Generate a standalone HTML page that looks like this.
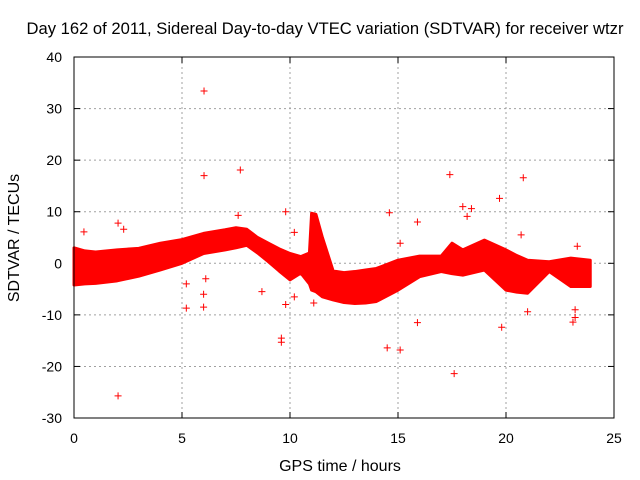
<!DOCTYPE html>
<html><head><meta charset="utf-8"><style>
body{margin:0;background:#fff;}
svg{display:block;font-family:"Liberation Sans",sans-serif;}
</style></head><body>
<svg id="chart" width="640" height="480">
<text x="325" y="34" text-anchor="middle" font-size="16.6">Day 162 of 2011, Sidereal Day-to-day VTEC variation (SDTVAR) for receiver wtzr</text>
<text x="340" y="471" text-anchor="middle" font-size="16">GPS time / hours</text>
<text transform="translate(19,238) rotate(-90)" text-anchor="middle" font-size="16">SDTVAR / TECUs</text>
<g id="grid"></g><g id="ticks"></g><g id="marks"></g>
<rect x="74" y="57" width="540" height="361" fill="none" stroke="#000" stroke-width="1"/>
</svg>
<script>
const xTicks=[0,5,10,15,20,25];
const yTicks=[-30,-20,-10,0,10,20,30,40];
const bandTimes=[0,0.5,1,2,3,4,5,6,7,7.5,8,8.5,9,9.5,10,10.5,10.9,11,11.2,11.5,12,12.5,13,13.5,14,15,16,17,17.5,18,19,20,20.5,21,22,23,23.9];
const bandUpper=[3,2.4,2.2,2.6,2.9,3.9,4.6,5.8,6.5,6.9,6.6,5,3.9,2.8,1.9,1.3,2,9.7,9.5,5,-1.5,-1.8,-1.6,-1.3,-1,0.6,1.4,1.4,3.9,2.6,4.5,2.6,1.5,0.6,0.3,1,0.6];
const bandLower=[-4.2,-4,-3.9,-3.4,-2.5,-1.3,0,1.9,2.6,3,3.5,2,0.3,-1.5,-3.2,-1.9,-4,-5.2,-5.5,-6.5,-7.1,-7.6,-7.8,-7.7,-7.4,-5.2,-2.6,-1.6,-2,-2.3,-1.3,-5.2,-5.6,-5.8,-1.6,-4.5,-4.5];
const outTimes=[6.02,6.02,7.7,2.04,17.4,17.6,20.8,19.7,14.6,14.5,15.1,18.4,18.2,9.8,9.6,9.6,8.7,5.2,0.46,2.04,2.3,15.9,15.9,21,19.8,20.7,23.3,23.1,7.6,6,10.2,11.1,15.1,18.1,18,6,6.1,5.2,9.8,10.2,23.2,23.2];
const outVals=[33.4,17,18.1,-25.7,17.2,-21.4,16.6,12.6,9.8,-16.4,-16.8,10.6,9.1,10,-14.5,-15.3,-5.5,-8.7,6.1,7.8,6.6,8,-11.5,-9.4,-12.4,5.5,3.3,-11.4,9.3,-8.5,6,-7.7,3.9,-1.6,11,-6,-3,-4,-8,-6.5,-9,-10.5];
const X=t=>74+t*21.6, Y=v=>263.3-v*5.157;
const NS="http://www.w3.org/2000/svg";
function mk(tag,attrs,parent){const e=document.createElementNS(NS,tag);for(const k in attrs)e.setAttribute(k,attrs[k]);parent.appendChild(e);return e;}
const grid=document.getElementById('grid'),ticks=document.getElementById('ticks'),marks=document.getElementById('marks');
xTicks.forEach(t=>{
 if(t>0&&t<25){const g=mk('line',{x1:X(t),x2:X(t),y1:57,y2:418,stroke:'#a0a0a0','stroke-dasharray':'2,3'},grid);
 
 }
 mk('line',{x1:X(t),x2:X(t),y1:418,y2:412,stroke:'#000'},ticks);
 mk('line',{x1:X(t),x2:X(t),y1:57,y2:63,stroke:'#000'},ticks);
 const l=mk('text',{x:X(t),y:443,'text-anchor':'middle','font-size':'14'},ticks);l.textContent=t;
 
 
});
yTicks.forEach(v=>{
 if(v>-30&&v<40){const g=mk('line',{x1:74,x2:614,y1:Y(v),y2:Y(v),stroke:'#a0a0a0','stroke-dasharray':'2,3'},grid);
 
 }
 mk('line',{x1:74,x2:80,y1:Y(v),y2:Y(v),stroke:'#000'},ticks);
 mk('line',{x1:608,x2:614,y1:Y(v),y2:Y(v),stroke:'#000'},ticks);
 const l=mk('text',{x:62,y:Y(v)+5,'text-anchor':'end','font-size':'14'},ticks);l.textContent=v;
 
 
});
let pts=bandTimes.map((t,i)=>X(t)+','+Y(bandUpper[i]));
for(let i=bandTimes.length-1;i>=0;i--)pts.push(X(bandTimes[i])+','+Y(bandLower[i]));
const band=mk('polygon',{points:pts.join(' '),fill:'#ff0000',stroke:'#ff0000','stroke-width':'3','stroke-linejoin':'round'},marks);


outTimes.forEach((t,i)=>{
 const x=X(t),y=Y(outVals[i]);
 const p=mk('path',{d:`M${x-3.5},${y}H${x+3.5}M${x},${y-3.5}V${y+3.5}`,stroke:'#ff0000','stroke-width':'1'},marks);
 
 
});
</script>
</body></html>
